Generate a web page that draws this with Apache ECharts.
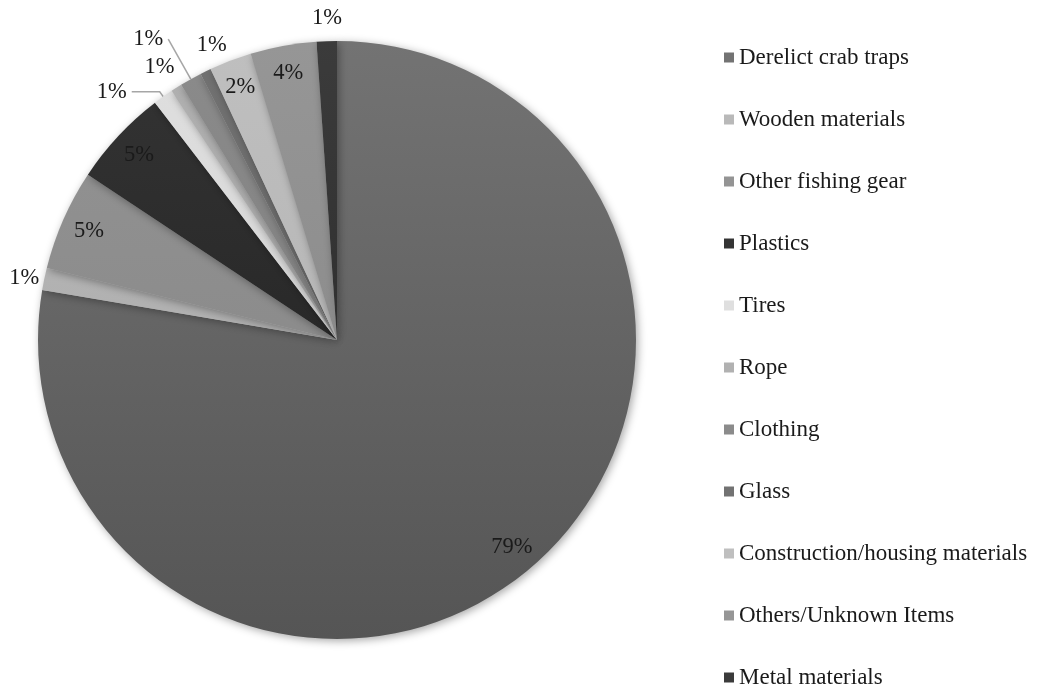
<!DOCTYPE html>
<html>
<head>
<meta charset="utf-8">
<script src="https://cdn.jsdelivr.net/npm/echarts@6/dist/echarts.min.js"></script>
<style>html,body{margin:0;padding:0;background:#fff;}#c{width:1039px;height:688px;}</style>
</head>
<body>
<div id="c"></div>
<script>
// Categories (legend order = slice order, clockwise from 12 o'clock)
const categories = ['Derelict crab traps','Wooden materials','Other fishing gear','Plastics','Tires','Rope','Clothing','Glass','Construction/housing materials','Others/Unknown Items','Metal materials'];
// Share of items (%)
const shares = [78.3, 1.2, 5.5, 5.3, 1.1, 0.6, 1.2, 0.6, 2.3, 3.6, 1.1];
// Printed data labels
const pctLabels = ['79%','1%','5%','5%','1%','1%','1%','1%','2%','4%','1%'];
// Which labels sit inside the slice
const insideLabel = [true,false,true,true,false,false,false,false,true,true,false];
// Which outside labels have a leader line
const leaderLine = [false,false,false,false,true,false,true,false,false,false,false];
// Leader-line geometry for the outside labels (length, length2)
const lineLen  = [0, 2, 0, 0, 6, 24, 46, 29, 0, 0, 23];
const lineLen2 = [0, -2, 0, 0, 28, -16, 0, -39, 0, 0, -21];

const shadeTop =    ['#737373','#b9b9b9','#949494','#343434','#dfdfdf','#b1b1b1','#8b8b8b','#727272','#bfbfbf','#969696','#3b3b3b'];
const shadeBottom = ['#555555','#a7a7a7','#838383','#1d1d1d','#cfcfcf','#9f9f9f','#797979','#616161','#afafaf','#848484','#252525'];

const CX = 337, CY = 340, R = 299;
function grad(i){
  return new echarts.graphic.LinearGradient(0, CY - R, 0, CY + R, [
    {offset:0, color: shadeTop[i]}, {offset:1, color: shadeBottom[i]}
  ], true);
}
const FONT = 'Liberation Serif';
const FS = 22.5;

const visualData = categories.map((name,i)=>({
  name, value: shares[i],
  itemStyle: {color: grad(i)},
  label: {show: !insideLabel[i], formatter: pctLabels[i]},
  labelLine: {show: leaderLine[i], length: lineLen[i], length2: lineLen2[i]}
}));
const innerData = categories.map((name,i)=>({
  name, value: shares[i],
  label: {show: insideLabel[i], formatter: pctLabels[i]}
}));

const chart = echarts.init(document.getElementById('c'), null, {renderer:'canvas'});
chart.setOption({
  animation: false,
  backgroundColor: '#ffffff',
  legend: {
    orient: 'vertical', left: 724, top: 46, height: 660, padding: 0,
    itemWidth: 10, itemHeight: 10, itemGap: 39,
    icon: 'rect',
    textStyle: {fontFamily: FONT, fontSize: 23, color: '#1a1a1a', lineHeight: 23},
    data: categories
  },
  series: [
    {
      type: 'pie', center: [CX, CY], radius: [0, R], startAngle: 90, clockwise: true,
      avoidLabelOverlap: false,
      itemStyle: {borderWidth: 0, shadowBlur: 8, shadowColor: 'rgba(0,0,0,0.35)', shadowOffsetX: 2, shadowOffsetY: 2},
      label: {position: 'outside', fontFamily: FONT, fontSize: FS, color: '#1a1a1a', overflow: 'none'},
      labelLine: {smooth: false, minTurnAngle: 0, maxSurfaceAngle: 180, lineStyle: {color: '#a6a6a6', width: 1.5}},
      emphasis: {disabled: true},
      data: visualData
    },
    {
      type: 'pie', center: [CX, CY], radius: [R - 62, R], startAngle: 90, clockwise: true,
      silent: true,
      itemStyle: {color: 'rgba(0,0,0,0)', borderWidth: 0},
      label: {position: 'inside', fontFamily: FONT, fontSize: FS, color: '#1a1a1a'},
      labelLine: {show: false},
      emphasis: {disabled: true},
      data: innerData
    }
  ]
});
</script>
</body>
</html>
